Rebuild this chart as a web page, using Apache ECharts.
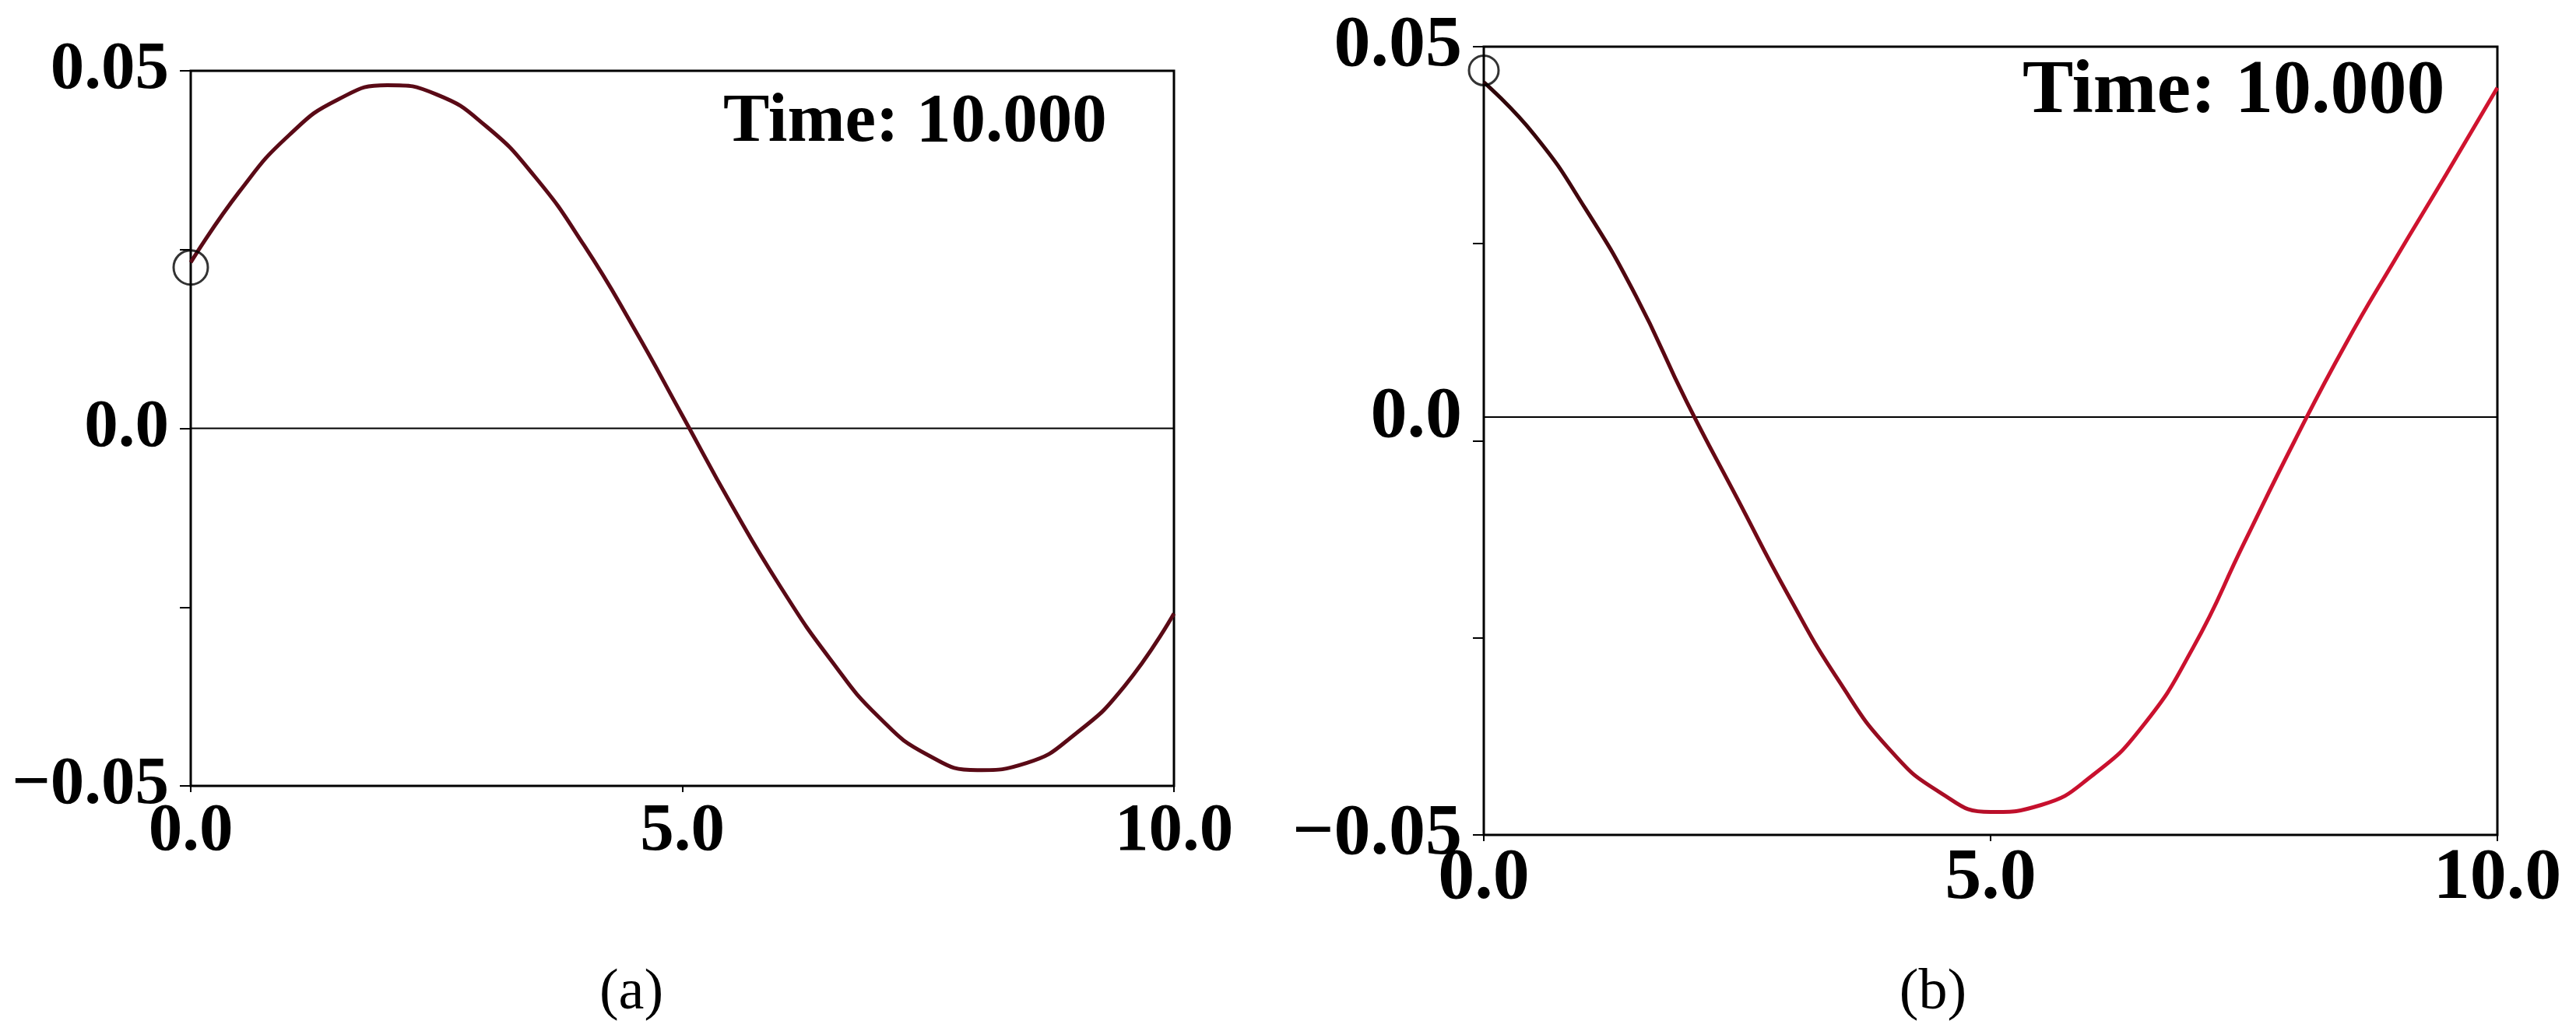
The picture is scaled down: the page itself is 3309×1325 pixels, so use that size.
<!DOCTYPE html>
<html>
<head>
<meta charset="utf-8"/>
<title>Time: 10.000</title>
<script src="https://cdn.jsdelivr.net/npm/echarts@6/dist/echarts.min.js"></script>
<style>
  html, body { margin: 0; padding: 0; background: #fff; }
  #main { width: 3309px; height: 1325px; }
</style>
</head>
<body>
<div id="main"></div>
<script type="text/javascript">
// sample positions along x (both panels)
var xValues = [0, 0.5, 1, 1.5, 2, 2.5, 3, 3.5, 4, 4.5, 5, 5.5, 6, 6.5, 7, 7.5, 8, 8.5, 9, 9.5, 10];
// panel (a) curve
var curveA = [0.0232, 0.0332, 0.0410, 0.0460, 0.0480, 0.0467, 0.0423, 0.0352, 0.0256, 0.0142, 0.0018,
              -0.0107, -0.0222, -0.0322, -0.0404, -0.0457, -0.0478, -0.0468, -0.0427, -0.0360, -0.0259];
// panel (b) curve
var curveB = [0.0455, 0.0388, 0.0295, 0.0184, 0.0050, -0.0073, -0.0195, -0.0304, -0.0391, -0.0446, -0.0471,
              -0.0462, -0.0425, -0.0362, -0.0262, -0.0130, 0.0000, 0.0122, 0.0232, 0.0339, 0.0448];
// start markers (open circles)
var startA = [0, 0.0225];
var startB = [0, 0.047];
// horizontal reference lines (level as drawn in each panel)
var zeroLineA = 0;
var zeroLineB = 0.003;
// ticks
var xTickLabels = ['0.0', '5.0', '10.0'];
var yTickValues = [-0.05, 0, 0.05];
var yTickLabels = ['\u22120.05', '0.0', '0.05'];
var timeText = 'Time: 10.000';
var captions = ['(a)', '(b)'];

var serif = '"Liberation Serif", "DejaVu Serif", serif';

function pairs(xs, ys) {
	var out = [];
	for (var i = 0; i < xs.length; i++) out.push([xs[i], ys[i]]);
	return out;
}
function yLabel(v) {
	for (var i = 0; i < yTickValues.length; i++) {
		if (Math.abs(v - yTickValues[i]) < 1e-9) return yTickLabels[i];
	}
	return '';
}
// panel (b): the 0.0 label sits on the drawn line, a little above the tick
function yLabelB(v) {
	var s = yLabel(v);
	return Math.abs(v) < 1e-9 ? '{z|' + s + '}' : s;
}
function xLabel(v) {
	return xTickLabels[Math.round(v / 5)] || '';
}

function xAxisFor(idx, size, margin) {
	return {
		type: 'value', gridIndex: idx, min: 0, max: 10, interval: 5, position: 'bottom',
		axisLine: { show: false, onZero: false },
		axisTick: { show: true, length: 8, lineStyle: { color: '#000', width: 2 } },
		splitLine: { show: false },
		axisLabel: {
			formatter: xLabel, margin: margin, color: '#000',
			fontFamily: serif, fontWeight: 'bold', fontSize: size
		}
	};
}
function yAxisFor(idx, size, margin, fmt) {
	return {
		type: 'value', gridIndex: idx, min: -0.05, max: 0.05, interval: 0.025, position: 'left',
		axisLine: { show: false, onZero: false },
		axisTick: { show: true, length: 14, lineStyle: { color: '#000', width: 2 } },
		splitLine: { show: false },
		axisLabel: {
			formatter: fmt, margin: margin, color: '#000',
			fontFamily: serif, fontWeight: 'bold', fontSize: size,
			rich: { z: { fontFamily: serif, fontWeight: 'bold', fontSize: size, color: '#000', padding: [0, 0, 60, 0] } }
		}
	};
}
function refLine(idx, v) {
	return {
		type: 'line', xAxisIndex: idx, yAxisIndex: idx, silent: true, showSymbol: false,
		data: [[0, v], [10, v]],
		lineStyle: { color: '#000', width: 2 },
		z: 1
	};
}

var myChart = echarts.init(document.getElementById('main'));
var option = {
	backgroundColor: '#fff',
	animation: false,
	grid: [
		{ left: 245, top: 91, width: 1263, height: 919, show: true, borderColor: '#000', borderWidth: 3 },
		{ left: 1906, top: 60, width: 1302, height: 1013, show: true, borderColor: '#000', borderWidth: 3 }
	],
	xAxis: [xAxisFor(0, 87, 16), xAxisFor(1, 94, 10)],
	yAxis: [yAxisFor(0, 87, 28, yLabel), yAxisFor(1, 94, 28, yLabelB)],
	graphic: [
		{ type: 'text', left: 929, top: 114, style: { text: timeText, fill: '#000', font: 'bold 89px ' + serif } },
		{ type: 'text', left: 2598, top: 70, style: { text: timeText, fill: '#000', font: 'bold 98px ' + serif } },
		{ type: 'text', x: 811, y: 1240, style: { text: captions[0], fill: '#000', font: '74px ' + serif, textAlign: 'center' } },
		{ type: 'text', x: 2483, y: 1240, style: { text: captions[1], fill: '#000', font: '74px ' + serif, textAlign: 'center' } }
	],
	series: [
		refLine(0, zeroLineA),
		refLine(1, zeroLineB),
		{
			type: 'line', xAxisIndex: 0, yAxisIndex: 0, smooth: 0.5, showSymbol: false, z: 3,
			data: pairs(xValues, curveA),
			lineStyle: { color: '#5a0a16', width: 5 }
		},
		{
			type: 'line', xAxisIndex: 1, yAxisIndex: 1, smooth: 0.5, showSymbol: false, z: 3,
			data: pairs(xValues, curveB),
			lineStyle: {
				width: 5,
				color: new echarts.graphic.LinearGradient(0, 0, 1, 0, [
					{ offset: 0, color: '#2a0508' },
					{ offset: 0.3, color: '#7a0a18' },
					{ offset: 0.55, color: '#c8102e' },
					{ offset: 1, color: '#d0142f' }
				])
			}
		},
		{
			type: 'scatter', xAxisIndex: 0, yAxisIndex: 0, clip: false, symbol: 'circle', symbolSize: 44, z: 4,
			data: [startA],
			itemStyle: { color: 'rgba(0,0,0,0)', borderColor: '#000', borderWidth: 3 }
		},
		{
			type: 'scatter', xAxisIndex: 1, yAxisIndex: 1, clip: false, symbol: 'circle', symbolSize: 38, z: 4,
			data: [startB],
			itemStyle: { color: 'rgba(0,0,0,0)', borderColor: '#000', borderWidth: 3 }
		}
	]
};
myChart.setOption(option);
window.onresize = function () {
	myChart.resize();
};
</script>
</body>
</html>
